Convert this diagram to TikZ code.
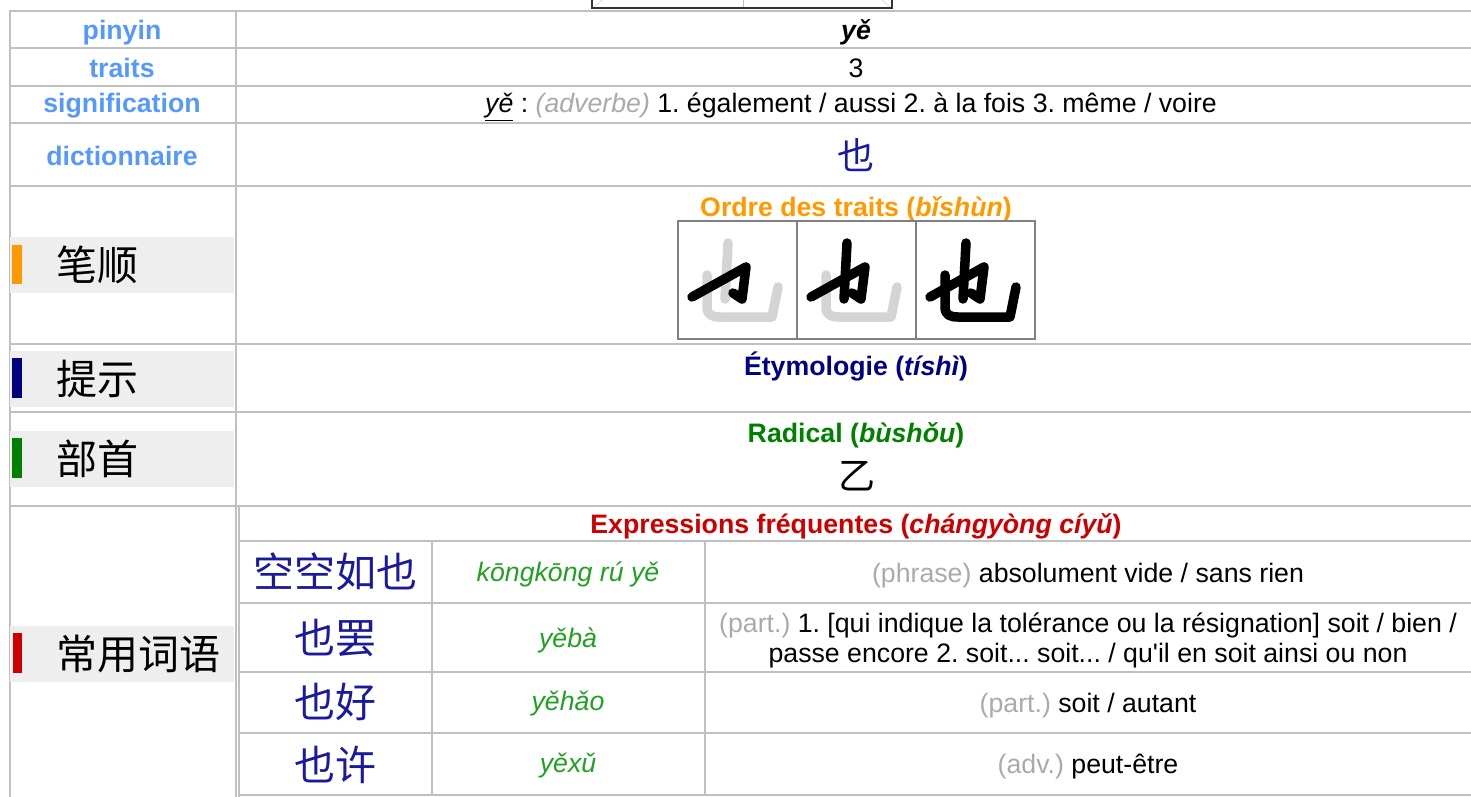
\documentclass[tikz,border=0pt]{standalone}
\usepackage{fontspec}
\setmainfont{Liberation Sans}
\newfontfamily\plainsans{Liberation Sans}
\newfontfamily\cjk{Noto Sans CJK SC}
\usepackage{xcolor}
\usetikzlibrary{positioning}
\definecolor{lblblue}{HTML}{5599FF}
\definecolor{gridgray}{HTML}{C0C0C0}
\definecolor{bandgray}{HTML}{EEEEEE}
\definecolor{posgray}{HTML}{AAAAAA}
\definecolor{hanblue}{HTML}{1A1A9C}
\definecolor{pygreen}{HTML}{22A022}
\definecolor{radgreen}{HTML}{008000}
\definecolor{etymblue}{HTML}{000080}
\definecolor{ordorange}{HTML}{FF9900}
\definecolor{exprred}{HTML}{CC0000}
\definecolor{ghost}{HTML}{D4D4D4}
\definecolor{tabdark}{HTML}{333333}
\newcommand{\txtfont}{\fontsize{26.7}{30}\selectfont}
\newcommand{\hanfont}{\cjk\fontsize{41}{44}\selectfont}
\frenchspacing

\begin{document}
\begin{tikzpicture}[x=1pt, y=-1pt,
  grid/.style={gridgray, line width=2.6},
  lbl/.style={font=\txtfont\bfseries, text=lblblue, anchor=base, inner sep=0},
  val/.style={font=\txtfont, anchor=base, inner sep=0},
  head/.style={font=\txtfont\bfseries, anchor=base, inner sep=0},
  han/.style={font=\hanfont, inner sep=0},
  py/.style={font=\txtfont\itshape, text=pygreen, anchor=base, inner sep=0},
  band/.style={fill=bandgray},
  ink/.style={line width=9.5, line cap=round, line join=round}]
\useasboundingbox (0,0) rectangle (1471,797);

\draw[tabdark, line width=1.5] (592,0) -- (592,8) -- (892,8) -- (892,0);
\draw[gridgray] (743,0) -- (743,7);
\draw[gridgray] (594,7) -- (602,0);
\draw[gridgray] (890,7) -- (882,0);

\foreach \y in {11,48,86,123,186,344,412,506}
  \draw[grid] (9,\y) -- (1471,\y);
\draw[grid] (10,10) -- (10,797);
\draw[grid] (236,10) -- (236,797);
\draw[grid] (239,506) -- (239,797);
\foreach \y in {541,603,672,733,795}
  \draw[grid] (238,\y) -- (1471,\y);
\foreach \x in {432,705}
  \draw[grid] (\x,541) -- (\x,795);

\node[lbl] (pinyinlbl) at (122,40) {pinyin};
\node[lbl] (traitslbl) at (122,78) {traits};
\node[lbl] (siglbl) at (122,113) {signification};
\node[lbl] (dictlbl) at (122,165) {dictionnaire};

\node[head, font=\txtfont\bfseries\itshape] (pinyinval) at (856,40) {yě};
\node[val] (traitsval) at (856,78) {3};
\node[val] (sigval) at (851,113) {\underline{\textit{yě}} : \textcolor{posgray}{\textit{(adverbe)}} 1. également / aussi 2. à la fois 3. même / voire};
\node[han, font=\cjk\fontsize{37}{40}\selectfont, text=hanblue] (dictval) at (856,155) {也};

\fill[band] (10,237) rectangle (234,293);
\fill[ordorange] (12,245) rectangle (22,284);
\node[han, anchor=west] (bishun) at (56,265) {笔顺};
\node[head, text=ordorange] (ordre) at (856,216) {Ordre des traits (\textit{bǐshùn})};

\draw[gray, line width=1.2] (678,221) rectangle (1035,339);
\foreach \x in {797,916}
  \draw[gray, line width=1.2] (\x,221) -- (\x,339);
\foreach \bx/\cb/\cc in {678/ghost/ghost, 797/black/ghost, 916/black/black} {
  \begin{scope}[shift={(\bx,221)}]
    \draw[ink, \cc] (29,54) -- (29,86) .. controls (29,94) and (34,96) .. (42,96) -- (94,96) -- (100,66);
    \draw[ink, \cb] (50,22) -- (47,78);
    \draw[ink, black] (14,76) -- (68,46) -- (64,78) -- (55,72);
  \end{scope}
}

\fill[band] (10,351) rectangle (234,407);
\fill[etymblue] (12,358) rectangle (22,398);
\node[han, anchor=west] (tishi) at (56,379) {提示};
\node[head, text=etymblue] (etym) at (856,375) {Étymologie (\textit{tíshì})};

\fill[band] (10,431) rectangle (234,487);
\fill[radgreen] (12,438) rectangle (22,478);
\node[han, anchor=west] (bushou) at (56,459) {部首};
\node[head, text=radgreen] (radical) at (856,442) {Radical (\textit{bùshǒu})};
\node[han, font=\cjk\fontsize{37}{40}\selectfont] (radval) at (857,476) {乙};

\fill[band] (10,626) rectangle (234,682);
\fill[exprred] (13,633) rectangle (22,673);
\node[han, anchor=west] (changyong) at (56,654) {常用词语};
\node[head, text=exprred] (expr) at (856,533) {Expressions fréquentes (\textit{chángyòng cíyǔ})};

\node[han, text=hanblue] (w1) at (335,572) {空空如也};
\node[han, text=hanblue] (w2) at (335,638) {也罢};
\node[han, text=hanblue] (w3) at (335,702) {也好};
\node[han, text=hanblue] (w4) at (335,765) {也许};

\node[py] (p1) at (568,581) {kōngkōng rú yě};
\node[py] (p2) at (568,647) {yěbà};
\node[py] (p3) at (568,710) {yěhǎo};
\node[py] (p4) at (568,772) {yěxǔ};

\node[val] (d1) at (1088,582) {\textcolor{posgray}{(phrase)} absolument vide / sans rien};
\node[font=\txtfont, align=center, inner sep=0] (d2) at (1088,640) {\textcolor{posgray}{(part.)} 1. [qui indique la tolérance ou la résignation] soit / bien /\\ passe encore 2. soit... soit... / {\plainsans qu'il} en soit ainsi ou non};
\node[val] (d3) at (1088,712) {\textcolor{posgray}{(part.)} soit / autant};
\node[val] (d4) at (1088,773) {\textcolor{posgray}{(adv.)} peut-être};
\end{tikzpicture}
\end{document}
